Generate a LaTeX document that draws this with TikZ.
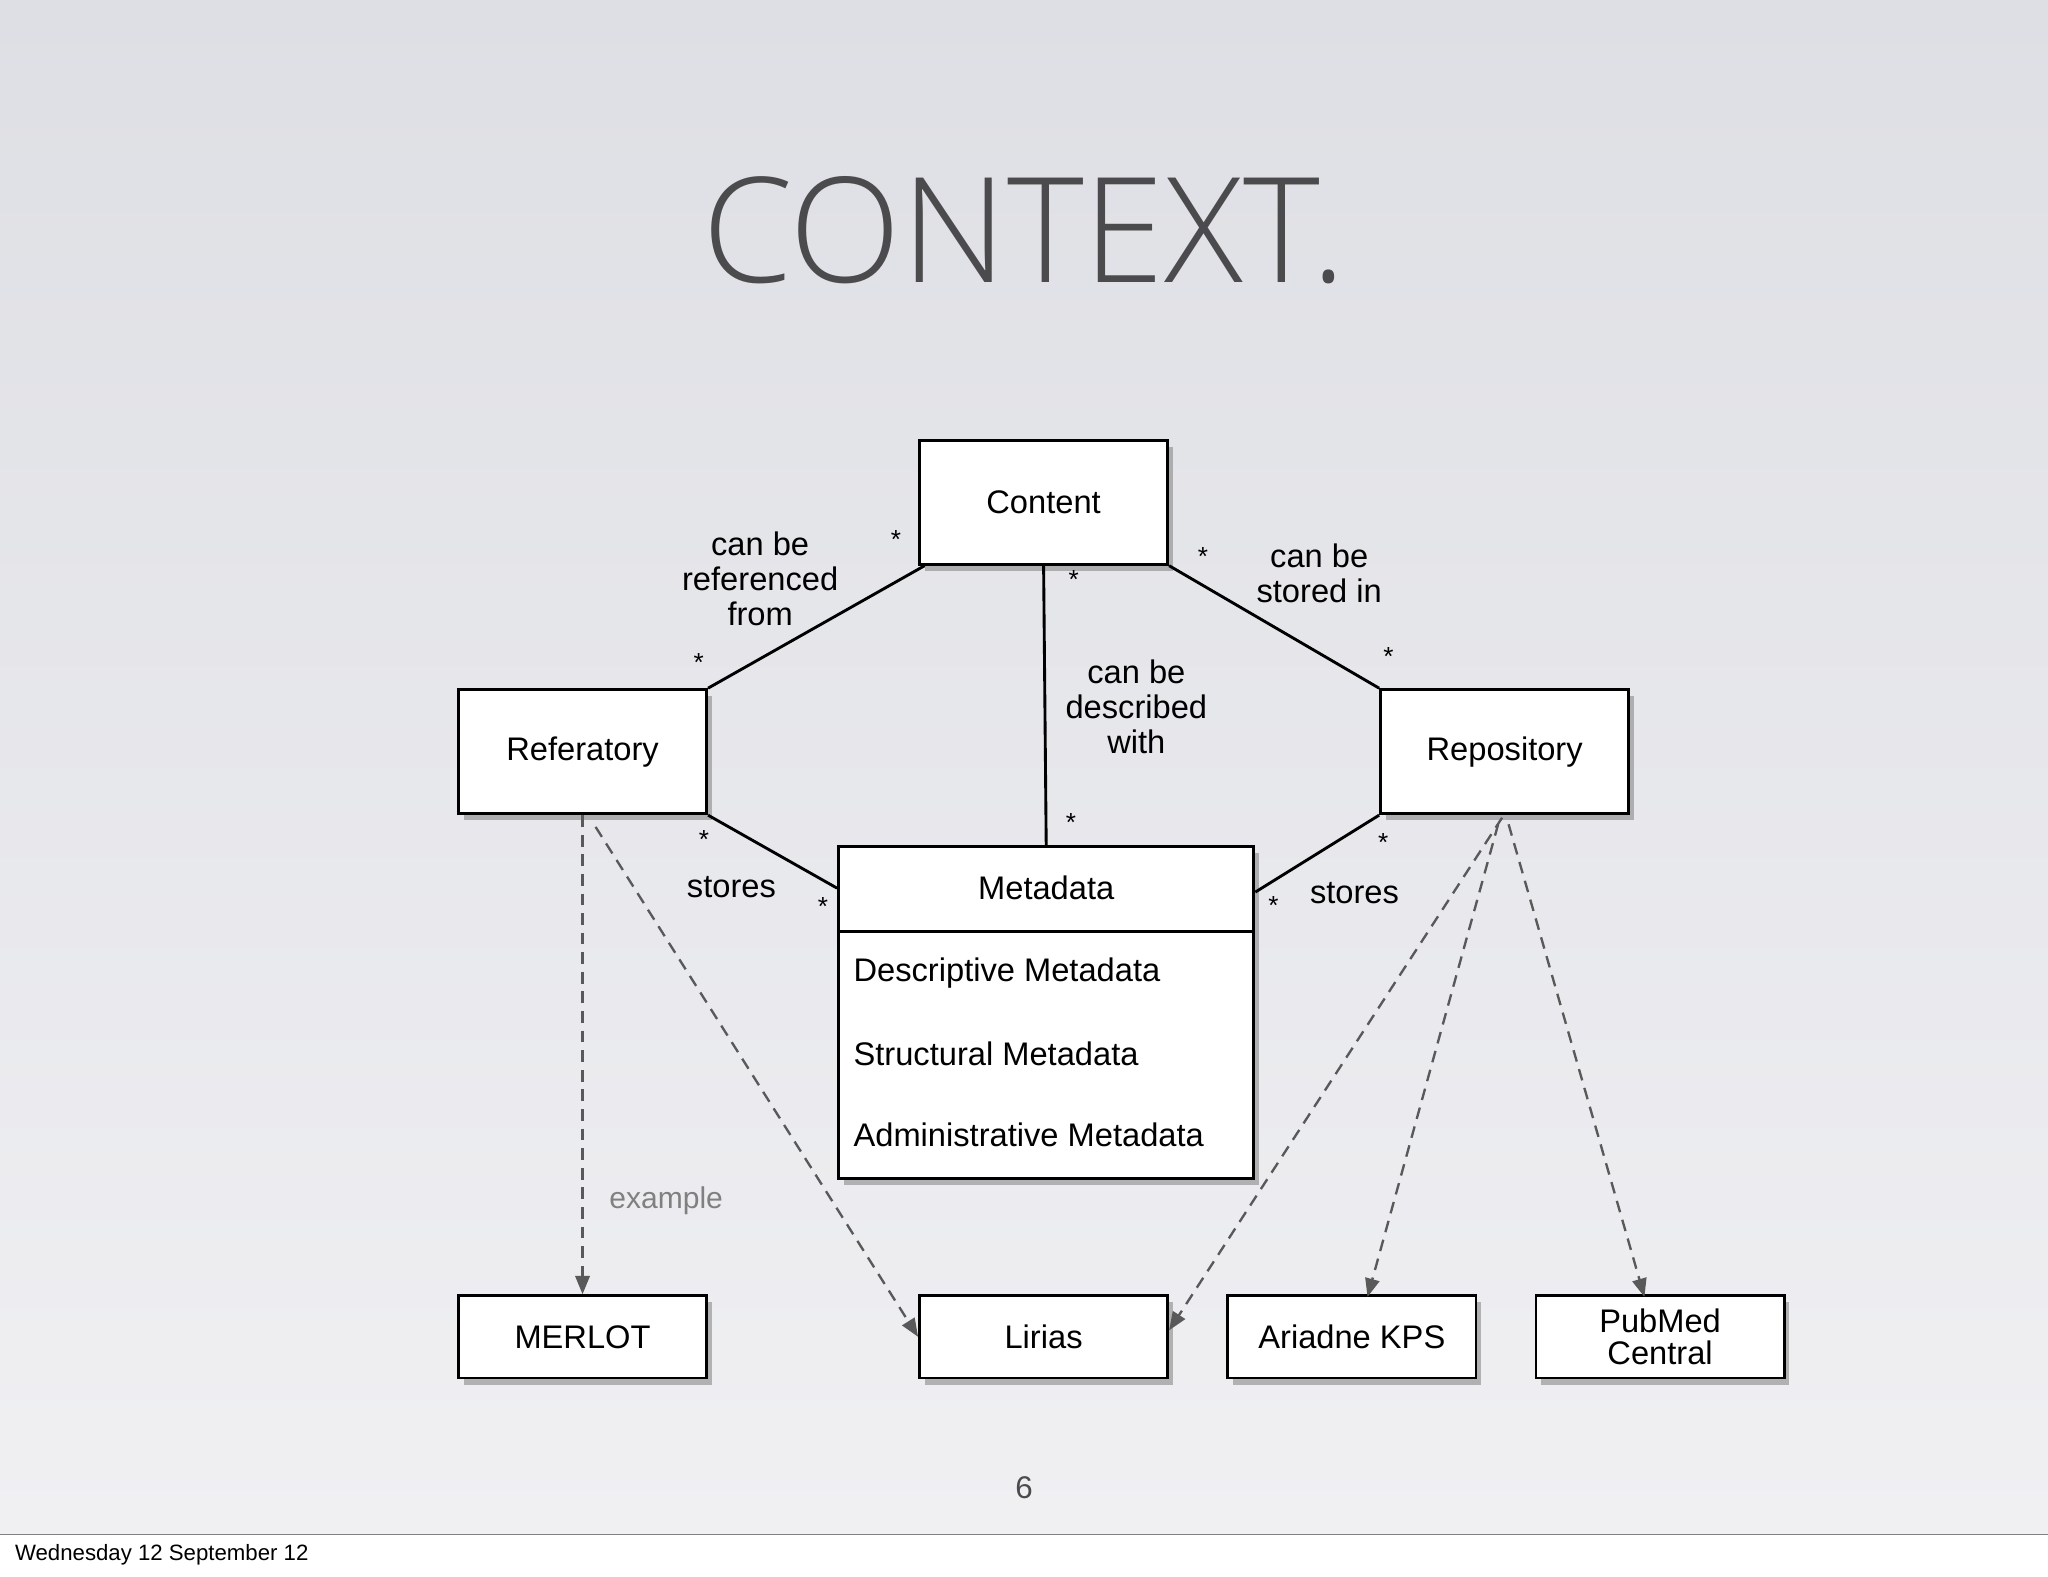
\documentclass[tikz,border=0pt]{standalone}
\usepackage{fontspec}
\setmainfont{Liberation Sans}
\newfontfamily\titlefont{Open Sans Light}
\usetikzlibrary{arrows.meta,shadows}
\definecolor{bgtop}{RGB}{222,223,228}
\definecolor{bgbot}{RGB}{240,240,243}
\definecolor{titlec}{RGB}{75,75,78}
\tikzset{
 box/.style={draw=black,line width=2.2pt,fill=white,minimum width=190pt,minimum height=95pt,font=\fontsize{25}{29}\selectfont,align=center,drop shadow={shadow xshift=4pt,shadow yshift=-5pt,opacity=0.55}},
 sbox/.style={box,minimum height=63pt},
 rel/.style={line width=2.2pt},
 ex/.style={draw=gray!70!black,line width=1.8pt,dash pattern=on 9pt off 6pt,-{Triangle[length=14pt,width=11pt,fill=gray!70!black]}},
 lbl/.style={font=\fontsize{25}{30}\selectfont,align=center},
 st/.style={font=\fontsize{20}{20}\selectfont}
}
\begin{document}
\begin{tikzpicture}[x=1pt,y=-1pt]
\useasboundingbox (0,0) rectangle (1568,1207);
\fill[white] (0,0) rectangle (1568,1207);
\shade[top color=bgtop,bottom color=bgbot] (0,0) rectangle (1568,1175);
\draw[gray,line width=0.8pt] (0,1175) -- (1568,1175);
\node[anchor=west,font=\fontsize{17}{20}\selectfont] (date) at (8,1190) {Wednesday 12 September 12};
\node[font=\titlefont\fontsize{112}{112}\selectfont,text=titlec] (title) at (784,176) {CONTEXT.};
\node[font=\fontsize{24}{24}\selectfont,text=titlec] (pg) at (784,1139) {6};
% boxes
\node[box] (content) at (799,384.5) {Content};
\node[box] (refer) at (446,575.5) {Referatory};
\node[box] (repo) at (1152,575.5) {Repository};
\node[box,minimum width=318pt,minimum height=254pt] (meta) at (801,775) {};
\draw[line width=2.2pt] (meta.west |- 0,713) -- (meta.east |- 0,713);
\node[lbl] (mt) at (801,680) {Metadata};
\node[lbl,anchor=west] (m1) at (650,745) {Descriptive Metadata};
\node[lbl,anchor=west] (m2) at (650,807) {Structural Metadata};
\node[lbl,anchor=west] (m3) at (650,869) {Administrative Metadata};
\node[sbox] (merlot) at (446,1023.5) {MERLOT};
\node[sbox] (lirias) at (799,1023.5) {Lirias};
\node[sbox] (ariadne) at (1035,1023.5) {Ariadne KPS};
\node[sbox] (pubmed) at (1271,1023.5) {PubMed\\[-4pt]Central};
% relations
\draw[rel] (content.south west) ++(5,0) coordinate (c1) -- (refer.north east);
\draw[rel] (content.south east) -- (repo.north west);
\draw[rel] (content.south) -- (meta.north);
\draw[rel] (refer.south east) -- (meta.west |- 0,680) coordinate (mw);
\draw[rel] (repo.south west) -- (meta.east |- 0,683) coordinate (me);
% labels
\node[lbl] (l1) at (582,443) {can be\\[-3pt]referenced\\[-3pt]from};
\node[lbl] (l2) at (1010,439) {can be\\[-3pt]stored in};
\node[lbl] (l3) at (870,541) {can be\\[-3pt]described\\[-3pt]with};
\node[lbl] (l4) at (560,679) {stores};
\node[lbl] (l5) at (1037,684) {stores};
\node[st] at (686,413) {*};
\node[st] at (535,507) {*};
\node[st] at (921,426) {*};
\node[st] at (1063,503) {*};
\node[st] at (822,444) {*};
\node[st] at (820,630) {*};
\node[st] at (539,643) {*};
\node[st] at (630,694) {*};
\node[st] at (1059,645) {*};
\node[st] at (975,693) {*};
% examples
\draw[ex] (refer.south) -- (merlot.north);
\draw[ex] ([xshift=10pt,yshift=-9pt]refer.south) -- (lirias.west);
\draw[ex] ([xshift=-2pt,yshift=-2pt]repo.south) -- ([yshift=5pt]lirias.east);
\draw[ex] ([xshift=-5pt,yshift=-7pt]repo.south) -- ([xshift=12pt,yshift=-2pt]ariadne.north);
\draw[ex] ([xshift=3pt,yshift=-7pt]repo.south) -- ([xshift=-12pt,yshift=-2pt]pubmed.north);
\node[lbl,text=gray,font=\fontsize{23}{26}\selectfont] (exl) at (510,919) {example};
\end{tikzpicture}
\end{document}
